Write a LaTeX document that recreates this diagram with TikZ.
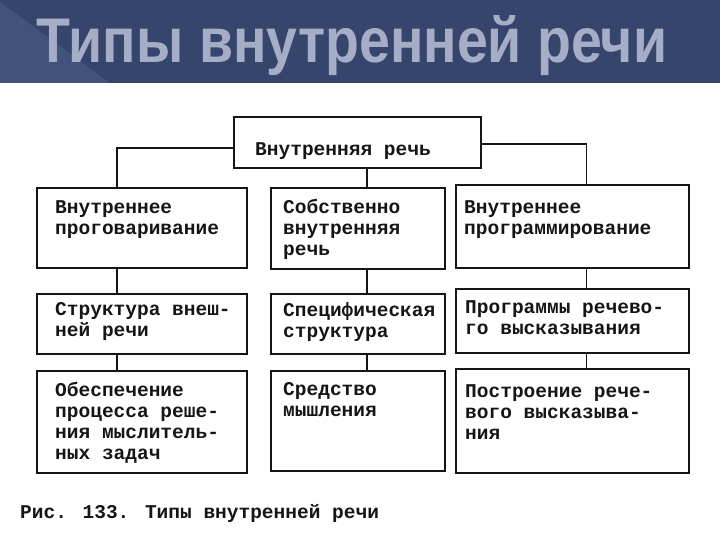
\documentclass[tikz,border=0pt]{standalone}
\usepackage{fontspec}
\usepackage{graphicx}
\usetikzlibrary{positioning,calc}
\newfontfamily\scanfont{Liberation Mono}
\newfontfamily\headfont{Liberation Sans}
\definecolor{bandblue}{HTML}{36456C}
\definecolor{bandlight}{HTML}{42527C}
\definecolor{titlegray}{HTML}{A6ADC6}
\definecolor{ink}{HTML}{151515}

\begin{document}
\begin{tikzpicture}[x=1pt,y=-1pt,
  cell/.style={draw=ink,line width=2.2pt,anchor=north west,inner sep=0pt},
  txt/.style={inner sep=0pt,align=left,text=ink,font=\scanfont\bfseries\fontsize{19.5}{21}\selectfont},
  link/.style={draw=ink,line width=1.9pt}]
\useasboundingbox (0,0) rectangle (720,540);
\fill[bandblue] (0,0) rectangle (720,83);
\fill[bandlight] (0,2) -- (110,83) -- (0,83) -- cycle;
\node[anchor=base,text=titlegray] (title) at (352,63)
  {\resizebox{630pt}{47pt}{\headfont\bfseries\fontsize{66}{70}\selectfont Типы внутренней речи}};

\node[cell,minimum width=247pt,minimum height=51pt] (top) at (233,116) {};
\node[cell,minimum width=210pt,minimum height=80pt] (l1) at (36,187) {};
\node[cell,minimum width=174pt,minimum height=81pt] (m1) at (270,187) {};
\node[cell,minimum width=233pt,minimum height=83pt] (r1) at (455,184) {};
\node[cell,minimum width=210pt,minimum height=60pt] (l2) at (36,293) {};
\node[cell,minimum width=174pt,minimum height=60pt] (m2) at (270,293) {};
\node[cell,minimum width=233pt,minimum height=64pt] (r2) at (455,288) {};
\node[cell,minimum width=210pt,minimum height=102pt] (l3) at (36,370) {};
\node[cell,minimum width=174pt,minimum height=100pt] (m3) at (270,370) {};
\node[cell,minimum width=233pt,minimum height=104pt] (r3) at (455,368) {};

\node[txt,anchor=north west] (topt) at ($(top.north west)+(22,26)$) {Внутренняя речь};
\node[txt,anchor=north west] (l1t) at ($(l1.north west)+(19,13)$) {Внутреннее\\проговаривание};
\node[txt,anchor=north west] (m1t) at ($(m1.north west)+(13,12)$) {Собственно\\внутренняя\\речь};
\node[txt,anchor=north west] (r1t) at ($(r1.north west)+(9,16)$) {Внутреннее\\программирование};
\node[txt,anchor=north west] (l2t) at ($(l2.north west)+(19,9)$) {Структура внеш-\\ней речи};
\node[txt,anchor=north west] (m2t) at ($(m2.north west)+(13,9)$) {Специфическая\\структура};
\node[txt,anchor=north west] (r2t) at ($(r2.north west)+(10,12)$) {Программы речево-\\го высказывания};
\node[txt,anchor=north west] (l3t) at ($(l3.north west)+(19,12)$) {Обеспечение\\процесса реше-\\ния мыслитель-\\ных задач};
\node[txt,anchor=north west] (m3t) at ($(m3.north west)+(13,12)$) {Средство\\мышления};
\node[txt,anchor=north west] (r3t) at ($(r3.north west)+(10,16)$) {Построение рече-\\вого высказыва-\\ния};

\coordinate (lhook) at (117,148);
\coordinate (mline) at (367,0);
\coordinate (rhook) at (586.5,144);
\draw[link] (top.west |- lhook) -| (l1.north -| lhook);
\draw[link] (top.east |- rhook) -| (r1.north -| rhook);
\draw[link] (top.south -| mline) -- (m1.north -| mline);
\draw[link] (l1.south -| lhook) -- (l2.north -| lhook);
\draw[link] (m1.south -| mline) -- (m2.north -| mline);
\draw[link] (r1.south -| rhook) -- (r2.north -| rhook);
\draw[link] (l2.south -| lhook) -- (l3.north -| lhook);
\draw[link] (m2.south -| mline) -- (m3.north -| mline);
\draw[link] (r2.south -| rhook) -- (r3.north -| rhook);

\node[txt,anchor=base west] (caption) at (20,518) {Рис. 133. Типы внутренней речи};
\end{tikzpicture}
\end{document}
